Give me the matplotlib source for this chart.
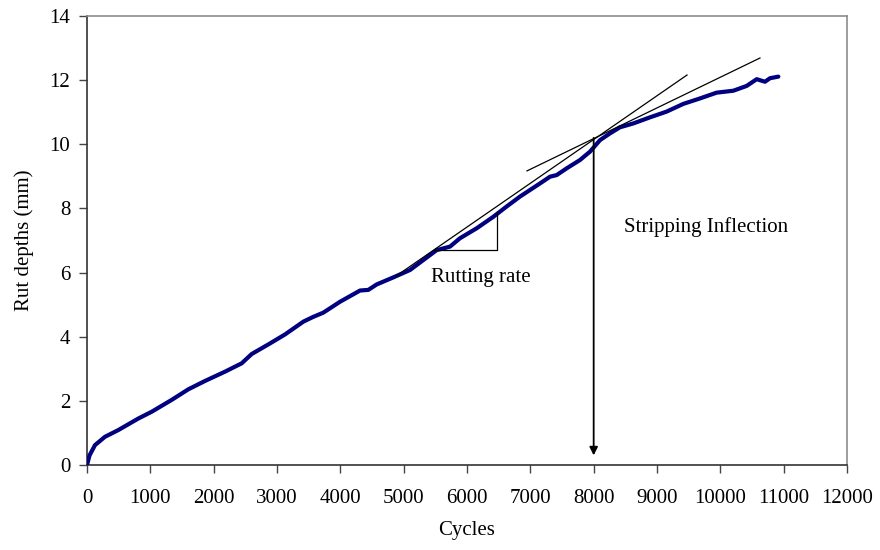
"""
Rut depth versus load cycles, with the rutting-rate slope and the
stripping inflection point marked on the curve.
"""

import matplotlib
matplotlib.use("Agg")  # headless backend
import matplotlib.pyplot as plt

# ── Measured rut depth curve ──────────────────────────────────────────────────
ciclos = [0, 40, 126, 284, 495, 811, 1021, 1337, 1600, 1863, 2179, 2442,
          2600, 2863, 3126, 3416, 3574, 3731, 3995, 4311, 4442, 4574, 4837,
          5100, 5310, 5521, 5732, 5889, 6152, 6416, 6626, 6837, 7153, 7311,
          7416, 7574, 7784, 7942, 8100, 8258, 8416, 8626, 8889, 9153, 9416,
          9679, 9942, 10205, 10416, 10574, 10705, 10784, 10916]
profundidade = [0.0, 0.30, 0.62, 0.88, 1.09, 1.45, 1.66, 2.03, 2.36, 2.62,
                2.91, 3.17, 3.46, 3.76, 4.07, 4.47, 4.62, 4.75, 5.09, 5.44,
                5.46, 5.63, 5.85, 6.08, 6.39, 6.70, 6.81, 7.07, 7.38, 7.74,
                8.06, 8.37, 8.78, 8.99, 9.04, 9.25, 9.51, 9.77, 10.13, 10.34,
                10.53, 10.65, 10.84, 11.02, 11.26, 11.43, 11.61, 11.67, 11.82,
                12.03, 11.95, 12.06, 12.11]

# ── Construction lines ────────────────────────────────────────────────────────
tangente1_x = [4879, 9474]
tangente1_y = [5.89, 12.16]
tangente2_x = [6947, 10626]
tangente2_y = [9.17, 12.69]
triangulo_x = [5472, 6474, 6474]
triangulo_y = [6.70, 6.70, 7.89]
inflexao_x = 8000
inflexao_y = [10.2, 0.3]

xticks = list(range(0, 12001, 1000))
yticks = list(range(0, 15, 2))


def gerar_grafico(caminho="out.png"):
    plt.rcParams["font.family"] = ["Liberation Serif", "DejaVu Serif"]
    fs = 15

    fig = plt.figure(figsize=(8.8, 5.5), dpi=100)
    ax = fig.add_axes([87 / 880, 1 - 465 / 550, 760 / 880, 449 / 550])

    ax.plot(ciclos, profundidade, color="#000080", linewidth=3.0,
            solid_capstyle="round", solid_joinstyle="round", zorder=3)

    ax.plot(tangente1_x, tangente1_y, color="black", linewidth=0.9, zorder=4)
    ax.plot(tangente2_x, tangente2_y, color="black", linewidth=0.9, zorder=4)
    ax.plot(triangulo_x, triangulo_y, color="black", linewidth=0.9, zorder=4)

    ax.annotate("", xy=(inflexao_x, inflexao_y[1]),
                xytext=(inflexao_x, inflexao_y[0]),
                arrowprops=dict(arrowstyle="-|>", color="black", lw=1.3,
                                mutation_scale=12, shrinkA=0, shrinkB=0),
                zorder=4)

    ax.text(6221, 5.86, "Rutting rate", fontsize=fs, ha="center", va="center")
    ax.text(9774, 7.43, "Stripping Inflection", fontsize=fs,
            ha="center", va="center")

    ax.set_xlim(0, 12000)
    ax.set_ylim(0, 14)
    ax.set_xticks(xticks)
    ax.set_yticks(yticks)
    ax.tick_params(axis="x", direction="out", length=6, width=1,
                   color="#444444", labelsize=fs, pad=11)
    ax.tick_params(axis="y", direction="out", length=6, width=1,
                   color="#444444", labelsize=fs, pad=6)

    ax.set_xlabel("Cycles", fontsize=fs, labelpad=10)
    ax.set_ylabel("Rut depths (mm)", fontsize=fs, labelpad=11)

    for lado in ("left", "bottom"):
        ax.spines[lado].set_color("#333333")
        ax.spines[lado].set_linewidth(1.2)
    for lado in ("top", "right"):
        ax.spines[lado].set_color("#8c8c8c")
        ax.spines[lado].set_linewidth(1.2)

    fig.savefig(caminho, dpi=100)
    plt.close(fig)


if __name__ == "__main__":
    gerar_grafico()
